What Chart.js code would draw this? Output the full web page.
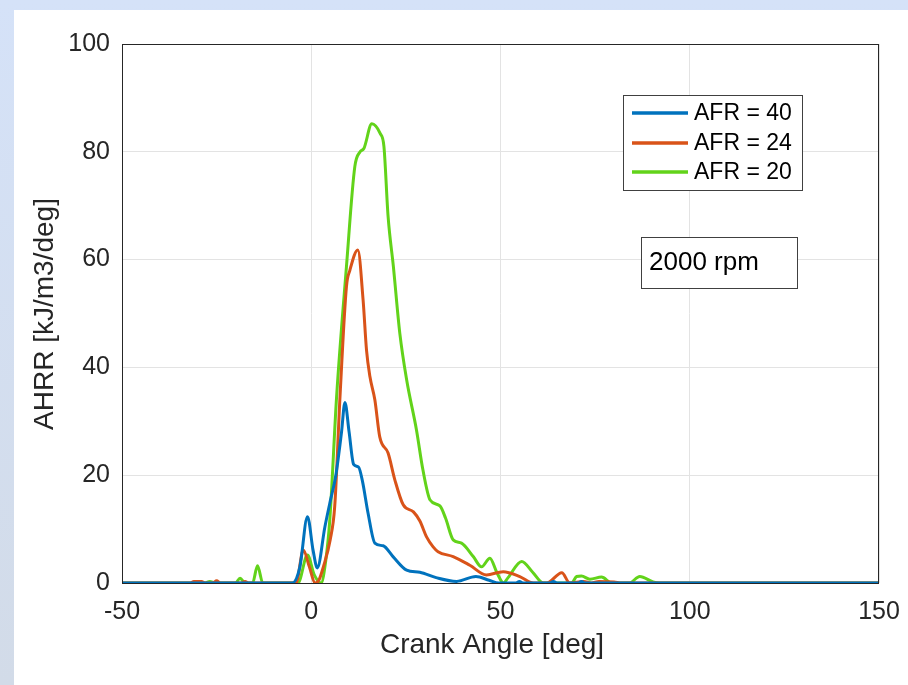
<!DOCTYPE html>
<html lang="en">
<head>
<meta charset="UTF-8">
<title>AHRR vs Crank Angle</title>
<script src="https://cdn.jsdelivr.net/npm/chart.js"></script>
<style>
    body { margin: 0; background: #d6e3f8; }
    canvas { display: block; }
</style>
</head>
<body>
<canvas id="grafico" width="908" height="685"></canvas>

<script>
// dados (angulo em graus, AHRR em kJ/m3/deg)
const afr40Angulo = [-50, -5, -3, -1, 0.5, 1.6, 3.6, 4.9, 6.5, 8, 8.9, 10, 11.2, 12.5, 13.5, 15, 16.8, 19, 21.6, 25.2, 28.7, 33, 38.4, 43.5, 47, 49.5, 54, 55, 56, 63, 64, 65, 70.5, 71.4, 72.3, 150];
const afr40Valor  = [0, 0, 3, 12.3, 6, 2.8, 10.4, 14.8, 20, 28, 33.5, 28, 22, 21.5, 19, 13, 7.4, 6.9, 4.9, 2.4, 2, 1, 0.3, 1.2, 0.5, 0, 0, 0.3, 0, 0, 0.3, 0, 0, 0.3, 0, 0];

const afr24Angulo = [-50, -32, -31, -29, -28, -26, -25, -24, -18.5, -17.5, -16.5, -4, -2.1, -0.5, 1, 2, 3.2, 5, 6.2, 7.6, 9.3, 10.2, 12.3, 13.7, 14.6, 15.5, 16.8, 18.1, 20.3, 22.1, 24.3, 27, 28.7, 30.5, 32.2, 33.5, 37.5, 41.9, 46.3, 50.7, 55.1, 58.7, 62.2, 66.2, 68.3, 72, 74, 76, 80, 82, 85, 150];
const afr24Valor  = [0, 0, 0.3, 0.3, 0, 0, 0.4, 0, 0, 0.3, 0, 0, 6.1, 3, 0, 0.5, 3, 8, 14.2, 34.6, 55, 58, 61.8, 52.5, 43.2, 38.3, 34, 27.1, 24.1, 19.1, 14.5, 13.2, 11.5, 8.5, 6.7, 5.8, 4.9, 3.3, 1.5, 2.1, 1.2, 0, 0, 1.9, 0, 0.3, 0, 0.3, 0.2, 0, 0, 0];

const afr20Angulo = [-50, -28, -26.8, -25.5, -20, -18.8, -17.5, -15.5, -14.2, -12.8, -3.5, -1, 0.8, 2.6, 3.8, 4.9, 6.7, 9.3, 11.5, 12.9, 13.9, 16, 18.2, 19.2, 20.3, 21.7, 23.4, 25.2, 27.8, 29.5, 31.4, 34, 35.5, 37.5, 39.7, 42.8, 45, 47.2, 49, 50.8, 52, 55.6, 58.5, 61.3, 68.8, 70.1, 71.4, 73.6, 76.7, 79.4, 84, 86.8, 90.3, 92, 150];
const afr20Valor  = [0, 0, 0.3, 0, 0, 0.9, 0, 0, 3.2, 0, 0, 5.2, 1.5, 0, 4, 11.7, 34.6, 58.7, 77.2, 80, 80.6, 85.2, 83.4, 81, 68, 58.7, 46.3, 37.7, 28.4, 21, 15.4, 14.3, 12, 8, 7.4, 4.9, 3, 4.6, 2, 0, 1, 4, 2, 0, 0, 1.2, 1.3, 0.7, 1.1, 0, 0, 1.2, 0.2, 0, 0];

const rotulos = ['AFR = 40', 'AFR = 24', 'AFR = 20'];
const cores = ['#0072BD', '#D95319', '#62D31A'];

function pontos(xs, ys) {
    return xs.map(function (x, i) { return { x: x, y: ys[i] }; });
}

const series = [
    pontos(afr40Angulo, afr40Valor),
    pontos(afr24Angulo, afr24Valor),
    pontos(afr20Angulo, afr20Valor)
];

const fonte = "'Liberation Sans', Arial, Helvetica, sans-serif";

// fundo, moldura, legenda e caixa de texto
const extras = {
    id: 'extras',
    beforeDraw: function (chart) {
        const ctx = chart.ctx;
        ctx.save();
        const grad = ctx.createLinearGradient(0, 0, 0, 685);
        grad.addColorStop(0, '#d5e2f8');
        grad.addColorStop(1, '#d2dbe8');
        ctx.fillStyle = grad;
        ctx.fillRect(0, 0, 908, 685);
        ctx.fillStyle = '#ffffff';
        ctx.fillRect(14, 10, 894, 675);
        ctx.restore();
    },
    afterDraw: function (chart) {
        const ctx = chart.ctx;
        const a = chart.chartArea;
        ctx.save();
        // caixa dos eixos
        ctx.strokeStyle = '#262626';
        ctx.lineWidth = 1;
        ctx.strokeRect(a.left + 0.5, a.top + 0.5, a.right - a.left - 1, a.bottom - a.top);

        // legenda
        ctx.fillStyle = '#ffffff';
        ctx.fillRect(624, 95, 179, 96);
        ctx.strokeStyle = '#404040';
        ctx.strokeRect(623.5, 95.5, 179, 95);
        ctx.font = '23px ' + fonte;
        ctx.textBaseline = 'middle';
        ctx.textAlign = 'left';
        const linhas = [113, 143, 172];
        for (let i = 0; i < rotulos.length; i++) {
            ctx.strokeStyle = cores[i];
            ctx.lineWidth = 3.5;
            ctx.beginPath();
            ctx.moveTo(632, linhas[i]);
            ctx.lineTo(688, linhas[i]);
            ctx.stroke();
            ctx.fillStyle = '#000000';
            ctx.fillText(rotulos[i], 694, linhas[i] + 1);
        }

        // caixa "2000 rpm"
        ctx.fillStyle = '#ffffff';
        ctx.fillRect(641, 237, 156, 51);
        ctx.strokeStyle = '#404040';
        ctx.lineWidth = 1;
        ctx.strokeRect(641.5, 237.5, 156, 51);
        ctx.font = '26px ' + fonte;
        ctx.fillStyle = '#000000';
        ctx.fillText('2000 rpm', 649, 263);

        // titulos dos eixos
        ctx.font = '28px ' + fonte;
        ctx.fillStyle = '#262626';
        ctx.textAlign = 'center';
        ctx.fillText('Crank Angle [deg]', 492, 645);
        ctx.translate(45, 314);
        ctx.rotate(-Math.PI / 2);
        ctx.fillText('AHRR [kJ/m3/deg]', 0, 0);
        ctx.restore();
    }
};

const datasets = series.map(function (d, i) {
    return {
        label: rotulos[i],
        data: d,
        borderColor: cores[i],
        backgroundColor: cores[i],
        borderWidth: 3,
        pointRadius: 0,
        fill: false,
        cubicInterpolationMode: 'monotone'
    };
});

new Chart(document.getElementById('grafico'), {
    type: 'line',
    data: { datasets: datasets },
    options: {
        responsive: false,
        animation: false,
        layout: { padding: { top: 44, right: 29, left: 0, bottom: 0 } },
        plugins: { legend: { display: false }, tooltip: { enabled: false } },
        scales: {
            x: {
                type: 'linear',
                min: -50,
                max: 150,
                afterFit: function (s) {
                    s.height = 102;
                    s.paddingLeft = 0;
                    s.paddingRight = 0;
                },
                ticks: {
                    stepSize: 50,
                    padding: 14,
                    color: '#262626',
                    font: { size: 25, family: fonte }
                },
                grid: { color: '#e3e3e3', drawTicks: false },
                border: { display: false }
            },
            y: {
                min: 0,
                max: 100,
                afterFit: function (s) {
                    s.width = 122;
                    s.paddingTop = 0;
                    s.paddingBottom = 0;
                },
                ticks: {
                    stepSize: 20,
                    padding: 12,
                    color: '#262626',
                    font: { size: 25, family: fonte }
                },
                grid: { color: '#e3e3e3', drawTicks: false },
                border: { display: false }
            }
        }
    },
    plugins: [extras]
});
</script>
</body>
</html>
